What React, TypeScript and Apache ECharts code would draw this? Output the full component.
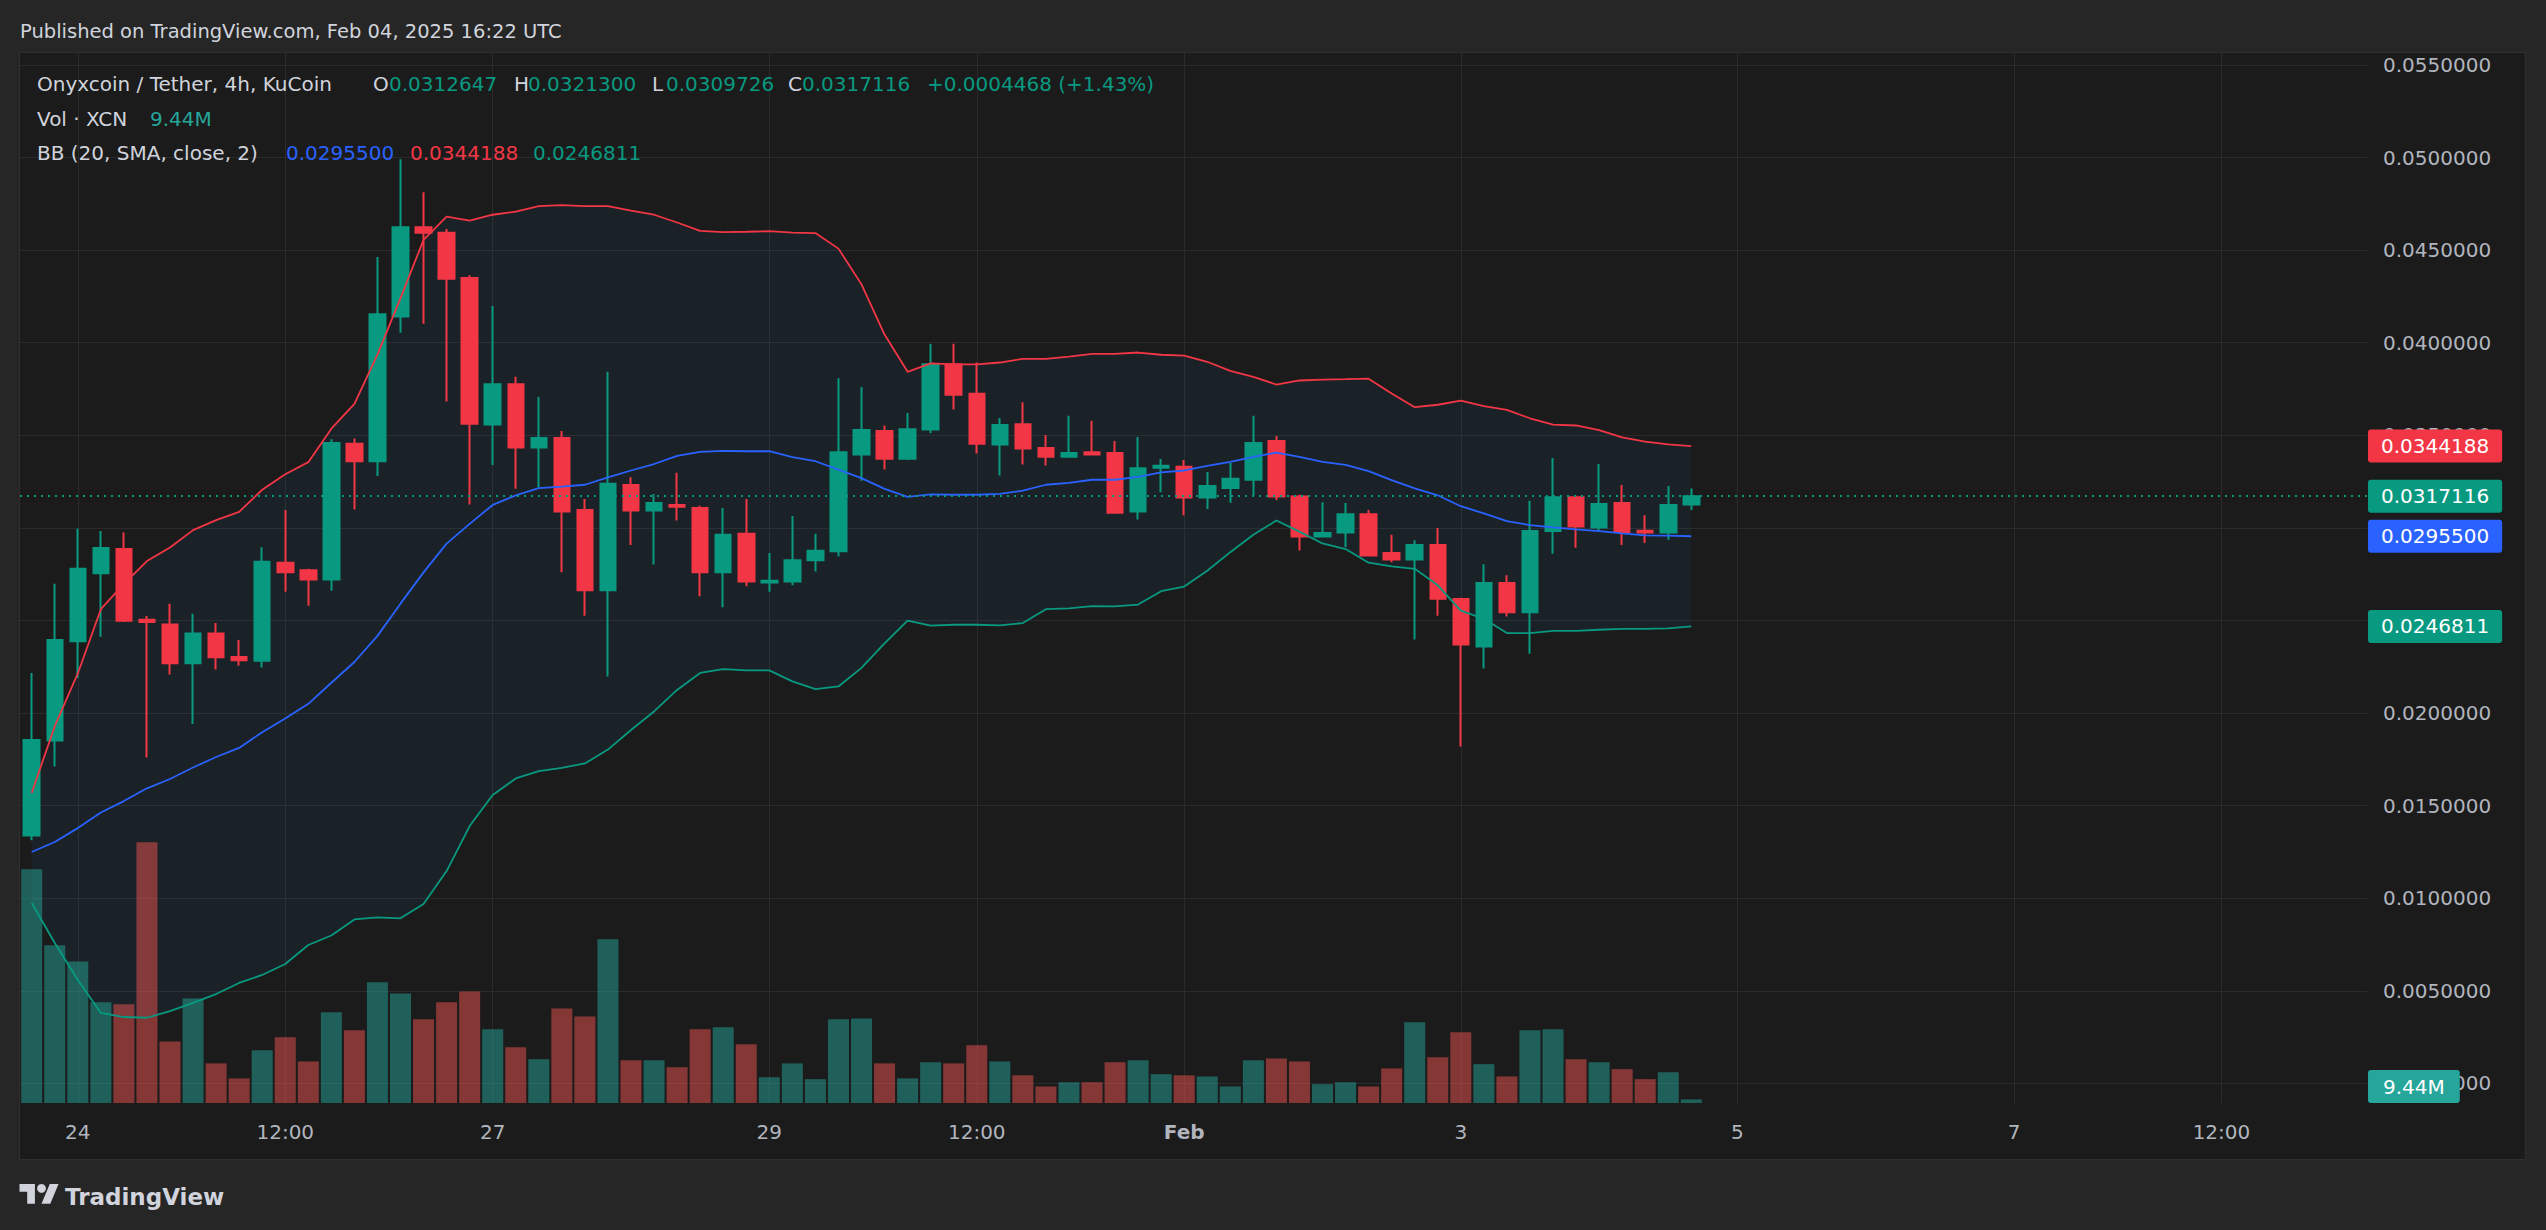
import React, { useEffect, useRef } from "react";
import * as echarts from "echarts";

echarts.graphic.registerShape(
  "tvlogo",
  echarts.graphic.extendPath("M14 22H7V11H0V4h14v18zM28 22h-8l7.5-18h8L28 22z", {})
);

// 4h candles, Jan 23 16:00 UTC .. Feb 04 16:00 UTC. x = bar offset from Jan 24 00:00.
const firstBarOffset = -2;

const candleOpen = [
  0.01339, 0.01852, 0.02388, 0.02755, 0.02886, 0.02504, 0.02479, 0.02269, 0.0243, 0.02303,
  0.02283, 0.02812, 0.02772, 0.02722, 0.03454, 0.0336, 0.04141, 0.04624, 0.04594, 0.04349,
  0.03558, 0.03776, 0.03434, 0.03486, 0.03097, 0.02663, 0.03231, 0.03094, 0.03124, 0.03107,
  0.0276, 0.02968, 0.02705, 0.0271, 0.02826, 0.02874, 0.03397, 0.03523, 0.03374, 0.03531,
  0.03883, 0.03724, 0.03451, 0.0356, 0.03431, 0.03384, 0.03409, 0.03404, 0.03089, 0.03325,
  0.0333, 0.03164, 0.03216, 0.0326, 0.03469, 0.03169, 0.02953, 0.02975, 0.03074, 0.02864,
  0.02829, 0.02908, 0.02616, 0.0236, 0.02702, 0.02544, 0.02983, 0.03166, 0.03002, 0.03134,
  0.02985, 0.02975, 0.0312647,
];
const candleHigh = [
  0.02217, 0.02698, 0.02995, 0.02983, 0.02975, 0.02524, 0.02591, 0.02536, 0.02487, 0.02395,
  0.02896, 0.03097, 0.02779, 0.03479, 0.03483, 0.04463, 0.04991, 0.04812, 0.04614, 0.04364,
  0.04198, 0.03816, 0.03707, 0.03523, 0.03156, 0.03843, 0.03273, 0.03183, 0.03298, 0.03119,
  0.03107, 0.03156, 0.02864, 0.03064, 0.02968, 0.03808, 0.03761, 0.03553, 0.0362, 0.03994,
  0.03994, 0.03893, 0.03593, 0.03679, 0.03501, 0.03605, 0.03578, 0.03469, 0.03491, 0.03372,
  0.03367, 0.03302, 0.0335, 0.03605, 0.03496, 0.03179, 0.03139, 0.03134, 0.03097, 0.02963,
  0.02933, 0.03, 0.02623, 0.02804, 0.02745, 0.03146, 0.03377, 0.03175, 0.03345, 0.03231,
  0.03069, 0.03226, 0.03213,
];
const candleLow = [
  0.01314, 0.01711, 0.02189, 0.02412, 0.02492, 0.0176, 0.02209, 0.01941, 0.02236, 0.02256,
  0.02246, 0.02655, 0.02579, 0.0266, 0.03099, 0.0328, 0.04054, 0.04103, 0.03682, 0.03126,
  0.0334, 0.03211, 0.03218, 0.0276, 0.02526, 0.02197, 0.02908, 0.02802, 0.0304, 0.02631,
  0.02571, 0.02685, 0.02655, 0.0269, 0.02764, 0.02846, 0.03255, 0.03315, 0.03367, 0.03511,
  0.0364, 0.03402, 0.03283, 0.03342, 0.03337, 0.03379, 0.03392, 0.03082, 0.03045, 0.03193,
  0.03069, 0.03102, 0.03136, 0.03174, 0.03151, 0.02878, 0.02953, 0.02896, 0.02851, 0.02814,
  0.02398, 0.02526, 0.0182, 0.02241, 0.02521, 0.02321, 0.02861, 0.02893, 0.02983, 0.02908,
  0.02918, 0.02936, 0.0309726,
];
const candleClose = [
  0.01855, 0.02395, 0.02779, 0.02891, 0.02499, 0.02492, 0.02269, 0.0243, 0.02301, 0.02286,
  0.02817, 0.0276, 0.02722, 0.03459, 0.0336, 0.04153, 0.04624, 0.04594, 0.04346, 0.03563,
  0.03776, 0.03434, 0.03486, 0.03089, 0.02663, 0.03238, 0.03094, 0.03134, 0.03114, 0.0276,
  0.02963, 0.0271, 0.02715, 0.02826, 0.02876, 0.03409, 0.03528, 0.03374, 0.03533, 0.03883,
  0.03719, 0.03454, 0.03555, 0.03429, 0.03384, 0.03404, 0.03397, 0.03082, 0.03322, 0.03335,
  0.03164, 0.03226, 0.03265, 0.03459, 0.03169, 0.02953, 0.02973, 0.03074, 0.02851, 0.02829,
  0.02908, 0.02618, 0.0237, 0.02702, 0.02544, 0.02983, 0.03166, 0.03007, 0.03129, 0.02978,
  0.02975, 0.03124, 0.0317116,
];
// volume in millions of XCN
const volumeM = [
  608, 410, 368, 262, 257, 678, 160, 272, 103, 64,
  137, 171, 108, 236, 189, 314, 285, 218, 262, 290,
  192, 145, 114, 246, 225, 426, 111, 111, 93, 192,
  197, 153, 67, 103, 62, 218, 220, 103, 64, 106,
  103, 150, 108, 72, 43, 54, 54, 106, 111, 75,
  72, 69, 43, 111, 116, 108, 49, 54, 43, 90,
  210, 119, 184, 101, 69, 189, 192, 114, 106, 88,
  62, 80, 9.44,
];
const bbBasis = [
  0.0125, 0.01304, 0.01379, 0.01463, 0.01525, 0.01594, 0.01644, 0.01706, 0.01763, 0.01812,
  0.01897, 0.01971, 0.0205, 0.02164, 0.02276, 0.02417, 0.02591, 0.0276, 0.02915, 0.03022,
  0.03124, 0.03176, 0.03215, 0.03223, 0.03233, 0.03273, 0.0331, 0.03345, 0.03389, 0.03411,
  0.03416, 0.03414, 0.03414, 0.03382, 0.0336, 0.03315, 0.03269, 0.03211, 0.03168, 0.03181,
  0.03179, 0.03179, 0.03184, 0.03201, 0.03233, 0.03243, 0.0326, 0.0326, 0.03275, 0.033,
  0.0331, 0.03335, 0.03357, 0.03384, 0.03407, 0.03384, 0.03357, 0.0334, 0.03307, 0.03258,
  0.03213, 0.03176, 0.03117, 0.03079, 0.03037, 0.03015, 0.03003, 0.02992, 0.02983, 0.0297,
  0.0296, 0.02958, 0.02955,
];
const bbUpper = [
  0.01569, 0.01929, 0.02214, 0.02561, 0.02698, 0.02821, 0.02894, 0.02988, 0.03042, 0.03087,
  0.03206, 0.0329, 0.03355, 0.03536, 0.0367, 0.03936, 0.04241, 0.04555, 0.04681, 0.04659,
  0.04691, 0.04708, 0.04738, 0.04743, 0.04738, 0.04738, 0.04713, 0.04691, 0.04649, 0.04604,
  0.04597, 0.04599, 0.04602, 0.04594, 0.04592, 0.04508, 0.04315, 0.04044, 0.03843, 0.03888,
  0.03883, 0.03883, 0.03893, 0.03913, 0.03913, 0.03925, 0.0394, 0.0394, 0.03947, 0.03935,
  0.0393, 0.03897, 0.03848, 0.03816, 0.03774, 0.03796, 0.03801, 0.03803, 0.03806, 0.03726,
  0.03652, 0.03665, 0.03687, 0.03657, 0.03637, 0.03592, 0.03558, 0.03553, 0.03528, 0.03489,
  0.03466, 0.03451, 0.0344188,
];
const bbLower = [
  0.00975, 0.00759, 0.00559, 0.00381, 0.00359, 0.00355, 0.00391, 0.00435, 0.00483, 0.00543,
  0.00586, 0.00645, 0.00748, 0.00799, 0.00886, 0.00897, 0.00892, 0.00969, 0.01147, 0.0139,
  0.01558, 0.01647, 0.01687, 0.01704, 0.01728, 0.01803, 0.01909, 0.02009, 0.02125, 0.02217,
  0.02238, 0.02231, 0.02231, 0.02171, 0.0213, 0.02144, 0.02244, 0.02377, 0.02499, 0.02472,
  0.02477, 0.02477, 0.02474, 0.02486, 0.02561, 0.02566, 0.02578, 0.02576, 0.02586, 0.02658,
  0.02683, 0.02769, 0.02869, 0.02963, 0.0304, 0.0298, 0.02916, 0.02886, 0.02812, 0.02792,
  0.02779, 0.0269, 0.02553, 0.02509, 0.02432, 0.02432, 0.02444, 0.02444, 0.0245, 0.02455,
  0.02455, 0.02457, 0.0246811,
];

const priceTicks = [0, 0.005, 0.01, 0.015, 0.02, 0.025, 0.03, 0.035, 0.04, 0.045, 0.05, 0.055];
const timeTickOffsets = [0, 9, 18, 30, 39, 48, 60, 72, 84, 93];
const timeTickLabels = ["24", "12:00", "27", "29", "12:00", "Feb", "3", "5", "7", "12:00"];
const boldTimeLabels = ["Feb"];

const symbolTitle = "Onyxcoin / Tether, 4h, KuCoin";
const changeText = "+0.0004468 (+1.43%)";
const volumeTitle = "Vol · XCN";
const volumeLastText = "9.44M";
const bbTitle = "BB (20, SMA, close, 2)";
const publishedText = "Published on TradingView.com, Feb 04, 2025 16:22 UTC";

// styling / layout
const FONT = '"DejaVu Sans", sans-serif';
const UP = "#089981";
const DOWN = "#f23645";
const BLUE = "#2962ff";
const VOL_UP = "rgba(38,166,154,0.5)";
const VOL_DOWN = "rgba(239,83,80,0.5)";
const GRIDC = "#2b2b2b";
const AXIS_TEXT = "#b2b5be";
const LEGEND_TEXT = "#d1d4dc";
const BAND_FILL = "rgba(33,150,243,0.06)";
const G = { left: 20, top: 53, width: 2347, height: 1050 };
const X_MIN = -2.5076;
const X_MAX = 99.314;
const Y_MIN = -0.001053;
const Y_MAX = 0.055643;
const VOL_MAX = 2730;

function fmt(v: number) {
  return v.toFixed(7);
}

function boxLabel(text: string, bg: string, extra: any = {}) {
  return {
    show: true,
    position: "end",
    distance: 1,
    formatter: text,
    color: "#ffffff",
    backgroundColor: bg,
    padding: [7, 13, 6, 13],
    borderRadius: 3,
    fontSize: 20,
    lineHeight: 20,
    fontFamily: FONT,
    opacity: 1,
    ...extra,
  };
}

function priceMarker(value: number, label: any, lineStyle: any = { width: 0, opacity: 1 }) {
  return {
    silent: true,
    symbol: ["none", "none"],
    precision: 10,
    lineStyle,
    data: [{ yAxis: value }],
    label,
  };
}

export default function App() {
  const ref = useRef<HTMLDivElement>(null);

  useEffect(() => {
    if (!ref.current) return;
    const chart = echarts.init(ref.current, null, { renderer: "svg" });
    const n = candleOpen.length;
    const xs = candleOpen.map((_, i) => i + firstBarOffset);
    const last = n - 1;

    const candleData = xs.map((x, i) => [x, candleOpen[i], candleClose[i], candleLow[i], candleHigh[i]]);
    const volData = xs.map((x, i) => ({
      value: [x, volumeM[i]],
      itemStyle: { color: candleClose[i] >= candleOpen[i] ? VOL_UP : VOL_DOWN },
    }));
    const lineOf = (arr: number[]) => xs.map((x, i) => [x, arr[i]]);

    const legendY1 = 84;
    const legendY2 = 119;
    const legendY3 = 153;
    const txt = (text: string, x: number, y: number, fill: string, size = 20, weight: any = "normal") => ({
      type: "text",
      x,
      y,
      z: 20,
      silent: true,
      style: { text, fill, fontSize: size, fontFamily: FONT, fontWeight: weight, verticalAlign: "middle", align: "left" },
    });

    const option: any = {
      animation: false,
      backgroundColor: "#262626",
      grid: [
        { ...G, containLabel: false },
        { ...G, containLabel: false },
      ],
      xAxis: [
        {
          type: "value",
          gridIndex: 0,
          min: X_MIN,
          max: X_MAX,
          axisLine: { show: false },
          axisTick: { show: false, customValues: timeTickOffsets },
          splitLine: { show: true, lineStyle: { color: GRIDC, width: 1 } },
          axisLabel: {
            customValues: timeTickOffsets,
            margin: 19,
            color: AXIS_TEXT,
            fontSize: 20,
            fontFamily: FONT,
            formatter: (v: number) => {
              const k = timeTickOffsets.indexOf(Math.round(v));
              const t = k >= 0 ? timeTickLabels[k] : "";
              return boldTimeLabels.includes(t) ? `{b|${t}}` : t;
            },
            rich: { b: { fontWeight: "bold", fontSize: 20, fontFamily: FONT, color: AXIS_TEXT } },
          },
        },
        { type: "value", gridIndex: 1, min: X_MIN, max: X_MAX, show: false, splitLine: { show: false } },
      ],
      yAxis: [
        {
          type: "value",
          gridIndex: 0,
          position: "right",
          min: Y_MIN,
          max: Y_MAX,
          axisLine: { show: false },
          axisTick: { show: false, customValues: priceTicks },
          splitLine: { show: true, lineStyle: { color: GRIDC, width: 1 } },
          axisLabel: {
            customValues: priceTicks,
            margin: 16,
            color: AXIS_TEXT,
            fontSize: 20,
            fontFamily: FONT,
            formatter: (v: number) => fmt(v),
          },
        },
        { type: "value", gridIndex: 1, min: 0, max: VOL_MAX, show: false, splitLine: { show: false } },
      ],
      series: [
        {
          type: "custom",
          name: "bbBand",
          xAxisIndex: 0,
          yAxisIndex: 0,
          data: [[xs[0], bbLower[0]]],
          encode: { x: 0, y: 1 },
          silent: true,
          clip: true,
          z: 0,
          renderItem: (params: any, api: any) => {
            const pts: number[][] = [];
            for (let i = 0; i < n; i++) pts.push(api.coord([xs[i], bbUpper[i]]));
            for (let i = n - 1; i >= 0; i--) pts.push(api.coord([xs[i], bbLower[i]]));
            return { type: "polygon", shape: { points: pts }, style: { fill: BAND_FILL } };
          },
        },
        {
          type: "bar",
          name: "volume",
          xAxisIndex: 1,
          yAxisIndex: 1,
          data: volData,
          barWidth: 21,
          z: 1,
          silent: true,
          markLine: priceMarker(
            0,
            boxLabel(volumeLastText, "#26a69a", { verticalAlign: "bottom", padding: [7, 15, 6, 15] })
          ),
        },
        {
          type: "candlestick",
          name: "XCNUSDT",
          xAxisIndex: 0,
          yAxisIndex: 0,
          data: candleData,
          encode: { x: 0, y: [1, 2, 3, 4] },
          barWidth: 16,
          silent: true,
          z: 3,
          itemStyle: { color: UP, color0: DOWN, borderColor: UP, borderColor0: DOWN, borderWidth: 2 },
          markLine: priceMarker(candleClose[last], boxLabel(fmt(candleClose[last]), UP), {
            color: UP,
            width: 2,
            type: [2, 5],
            opacity: 1,
          }),
        },
        {
          type: "line",
          name: "bbUpper",
          xAxisIndex: 0,
          yAxisIndex: 0,
          data: lineOf(bbUpper),
          symbol: "none",
          silent: true,
          z: 4,
          lineStyle: { color: DOWN, width: 1.8 },
          markLine: priceMarker(bbUpper[last], boxLabel(fmt(bbUpper[last]), DOWN)),
        },
        {
          type: "line",
          name: "bbBasis",
          xAxisIndex: 0,
          yAxisIndex: 0,
          data: lineOf(bbBasis),
          symbol: "none",
          silent: true,
          z: 4,
          lineStyle: { color: BLUE, width: 1.8 },
          markLine: priceMarker(bbBasis[last], boxLabel(fmt(bbBasis[last]), BLUE)),
        },
        {
          type: "line",
          name: "bbLower",
          xAxisIndex: 0,
          yAxisIndex: 0,
          data: lineOf(bbLower),
          symbol: "none",
          silent: true,
          z: 4,
          lineStyle: { color: UP, width: 1.8 },
          markLine: priceMarker(bbLower[last], boxLabel(fmt(bbLower[last]), UP)),
        },
      ],
      graphic: [
        {
          type: "rect",
          z: -10,
          silent: true,
          shape: { x: 19.5, y: 52.5, width: 2506, height: 1107 },
          style: { fill: "#1b1b1b", stroke: "#2f2f2f", lineWidth: 1 },
        },
        txt(publishedText, 20, 31, LEGEND_TEXT, 19.5),
        txt(symbolTitle, 37, legendY1, LEGEND_TEXT),
        txt("O", 373, legendY1, LEGEND_TEXT),
        txt(fmt(candleOpen[last]), 389, legendY1, UP),
        txt("H", 514, legendY1, LEGEND_TEXT),
        txt(fmt(candleHigh[last]), 528, legendY1, UP),
        txt("L", 652, legendY1, LEGEND_TEXT),
        txt(fmt(candleLow[last]), 666, legendY1, UP),
        txt("C", 788, legendY1, LEGEND_TEXT),
        txt(fmt(candleClose[last]), 802, legendY1, UP),
        txt(changeText, 927, legendY1, UP),
        txt(volumeTitle, 37, legendY2, LEGEND_TEXT),
        txt(volumeLastText, 150, legendY2, "#26a69a"),
        txt(bbTitle, 37, legendY3, LEGEND_TEXT),
        txt(fmt(bbBasis[last]), 286, legendY3, BLUE),
        txt(fmt(bbUpper[last]), 410, legendY3, DOWN),
        txt(fmt(bbLower[last]), 533, legendY3, UP),
        {
          type: "tvlogo",
          x: 19.5,
          y: 1179.6,
          scaleX: 1.1,
          scaleY: 1.1,
          z: 20,
          silent: true,
          style: { fill: LEGEND_TEXT },
        },
        {
          type: "circle",
          z: 20,
          silent: true,
          shape: { cx: 19.5 + 20 * 1.1, cy: 1179.6 + 8 * 1.1, r: 4 * 1.1 },
          style: { fill: LEGEND_TEXT },
        },
        txt("TradingView", 65, 1197, LEGEND_TEXT, 23, 600),
      ],
    };

    chart.setOption(option);
    return () => chart.dispose();
  }, []);

  return (
    <div
      ref={ref}
      style={{ position: "fixed", left: 0, top: 0, width: 2546, height: 1230 }}
    />
  );
}
